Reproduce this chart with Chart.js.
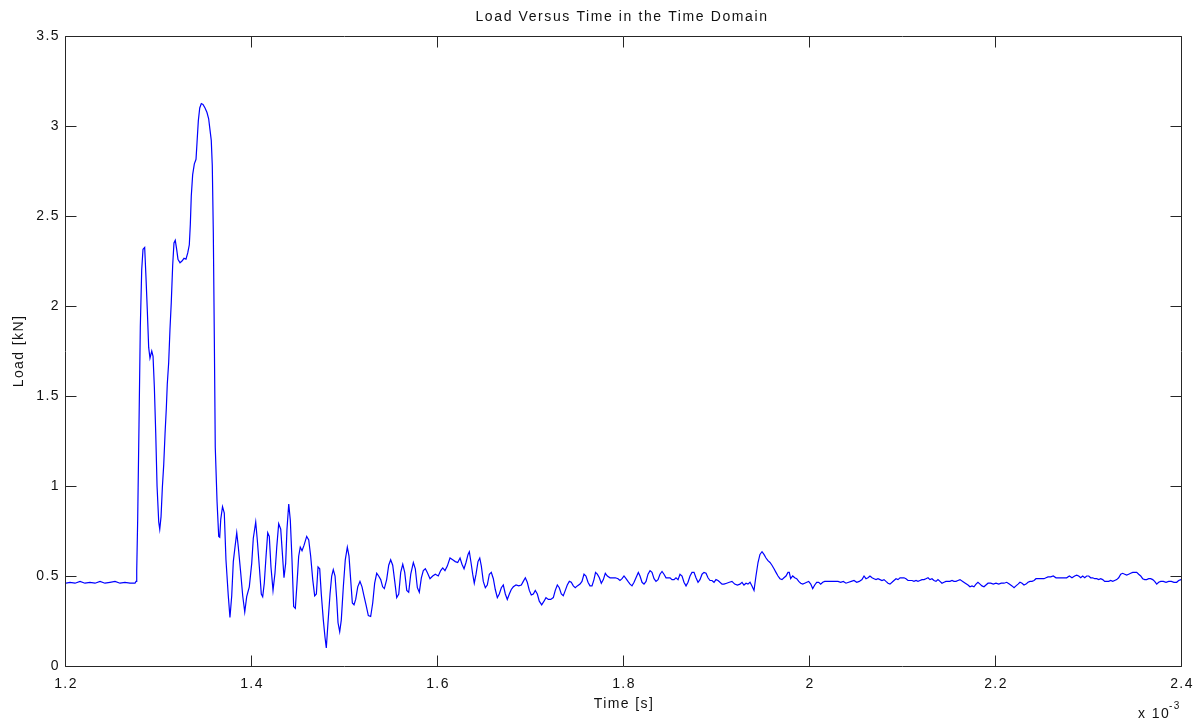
<!DOCTYPE html>
<html>
<head>
<meta charset="utf-8">
<title>Load Versus Time</title>
<script src="https://cdn.jsdelivr.net/npm/chart.js@4/dist/chart.umd.min.js"></script>
<style>
  html, body { margin: 0; padding: 0; background: #fff; }
  #wrap { width: 1204px; height: 728px; }
</style>
</head>
<body>
<div id="wrap"><canvas id="chart" width="1204" height="728"></canvas></div>
<script>
// time in units of 1e-3 s, load in kN
const time = [
  1.2000,1.2043,1.2097,1.2151,1.2204,1.2258,1.2312,1.2366,1.2419,1.2473,
  1.2527,1.2581,1.2634,1.2688,1.2742,1.2753,1.2758,1.2763,1.2771,1.2785,
  1.2799,1.2814,1.2828,1.2846,1.2860,1.2874,1.2889,1.2903,1.2922,1.2936,
  1.2950,1.2965,1.2979,1.2997,1.3008,1.3022,1.3036,1.3051,1.3065,1.3079,
  1.3089,1.3104,1.3118,1.3132,1.3147,1.3161,1.3175,1.3190,1.3204,1.3226,
  1.3247,1.3269,1.3290,1.3309,1.3326,1.3337,1.3347,1.3362,1.3380,1.3398,
  1.3409,1.3423,1.3438,1.3455,1.3473,1.3495,1.3516,1.3534,1.3548,1.3562,
  1.3573,1.3584,1.3595,1.3605,1.3624,1.3642,1.3653,1.3664,1.3683,1.3702,
  1.3720,1.3745,1.3763,1.3782,1.3799,1.3817,1.3836,1.3853,1.3879,1.3900,
  1.3922,1.3943,1.3971,1.3997,1.4014,1.4040,1.4057,1.4079,1.4100,1.4115,
  1.4132,1.4151,1.4169,1.4186,1.4204,1.4226,1.4247,1.4266,1.4287,1.4309,
  1.4326,1.4344,1.4362,1.4376,1.4395,1.4412,1.4430,1.4448,1.4466,1.4484,
  1.4502,1.4519,1.4538,1.4559,1.4588,1.4610,1.4631,1.4653,1.4674,1.4692,
  1.4710,1.4728,1.4745,1.4767,1.4785,1.4799,1.4817,1.4839,1.4857,1.4874,
  1.4893,1.4911,1.4925,1.4943,1.4960,1.4982,1.5003,1.5025,1.5043,1.5061,
  1.5079,1.5097,1.5115,1.5137,1.5161,1.5183,1.5204,1.5226,1.5251,1.5276,
  1.5298,1.5319,1.5341,1.5362,1.5384,1.5405,1.5423,1.5448,1.5470,1.5491,
  1.5513,1.5535,1.5556,1.5578,1.5599,1.5621,1.5642,1.5664,1.5685,1.5707,
  1.5735,1.5756,1.5778,1.5799,1.5821,1.5842,1.5864,1.5885,1.5914,1.5943,
  1.5971,1.6003,1.6029,1.6051,1.6075,1.6100,1.6129,1.6158,1.6186,1.6212,
  1.6237,1.6258,1.6280,1.6301,1.6323,1.6337,1.6355,1.6373,1.6390,1.6409,
  1.6430,1.6449,1.6466,1.6487,1.6509,1.6530,1.6552,1.6573,1.6595,1.6616,
  1.6638,1.6659,1.6681,1.6702,1.6724,1.6745,1.6767,1.6788,1.6810,1.6839,
  1.6868,1.6896,1.6917,1.6939,1.6960,1.6982,1.7003,1.7025,1.7046,1.7068,
  1.7089,1.7115,1.7140,1.7161,1.7186,1.7212,1.7240,1.7261,1.7283,1.7304,
  1.7326,1.7347,1.7369,1.7390,1.7412,1.7433,1.7455,1.7476,1.7498,1.7527,
  1.7548,1.7570,1.7591,1.7613,1.7634,1.7656,1.7677,1.7694,1.7713,1.7735,
  1.7756,1.7778,1.7799,1.7821,1.7850,1.7879,1.7907,1.7936,1.7957,1.7979,
  1.8000,1.8022,1.8043,1.8065,1.8086,1.8108,1.8129,1.8154,1.8172,1.8194,
  1.8215,1.8237,1.8258,1.8280,1.8301,1.8323,1.8344,1.8366,1.8387,1.8409,
  1.8430,1.8452,1.8473,1.8495,1.8516,1.8538,1.8559,1.8581,1.8602,1.8624,
  1.8645,1.8667,1.8688,1.8710,1.8731,1.8753,1.8774,1.8796,1.8817,1.8839,
  1.8860,1.8882,1.8903,1.8925,1.8946,1.8968,1.8989,1.9011,1.9032,1.9054,
  1.9075,1.9104,1.9133,1.9161,1.9190,1.9219,1.9247,1.9269,1.9290,1.9312,
  1.9333,1.9355,1.9376,1.9398,1.9419,1.9441,1.9462,1.9484,1.9505,1.9527,
  1.9548,1.9570,1.9591,1.9613,1.9634,1.9656,1.9677,1.9699,1.9720,1.9742,
  1.9763,1.9777,1.9792,1.9814,1.9836,1.9857,1.9879,1.9900,1.9922,1.9943,
  1.9965,1.9986,2.0008,2.0029,2.0051,2.0072,2.0094,2.0115,2.0137,2.0158,
  2.0186,2.0215,2.0244,2.0272,2.0301,2.0330,2.0358,2.0387,2.0416,2.0444,
  2.0473,2.0502,2.0530,2.0559,2.0581,2.0602,2.0624,2.0645,2.0667,2.0688,
  2.0710,2.0731,2.0753,2.0774,2.0796,2.0817,2.0839,2.0860,2.0882,2.0903,
  2.0925,2.0946,2.0968,2.0989,2.1011,2.1032,2.1054,2.1075,2.1097,2.1118,
  2.1140,2.1161,2.1183,2.1204,2.1226,2.1247,2.1269,2.1290,2.1312,2.1333,
  2.1355,2.1376,2.1398,2.1419,2.1441,2.1462,2.1484,2.1505,2.1527,2.1548,
  2.1570,2.1591,2.1613,2.1642,2.1670,2.1699,2.1720,2.1742,2.1763,2.1785,
  2.1806,2.1828,2.1849,2.1871,2.1892,2.1914,2.1943,2.1971,2.2000,2.2029,
  2.2057,2.2086,2.2115,2.2143,2.2172,2.2194,2.2215,2.2237,2.2258,2.2280,
  2.2301,2.2323,2.2344,2.2366,2.2387,2.2409,2.2430,2.2459,2.2487,2.2516,
  2.2538,2.2559,2.2588,2.2616,2.2645,2.2674,2.2703,2.2731,2.2760,2.2789,
  2.2817,2.2846,2.2868,2.2889,2.2911,2.2932,2.2954,2.2975,2.2997,2.3018,
  2.3040,2.3061,2.3083,2.3104,2.3126,2.3147,2.3169,2.3190,2.3212,2.3233,
  2.3255,2.3276,2.3298,2.3319,2.3341,2.3362,2.3384,2.3405,2.3427,2.3448,
  2.3470,2.3491,2.3513,2.3534,2.3556,2.3577,2.3599,2.3620,2.3642,2.3663,
  2.3685,2.3706,2.3728,2.3749,2.3771,2.3799,2.3828,2.3857,2.3885,2.3914,
  2.3943,2.3964,2.3989,2.4000
]

const load = [
  0.460,0.465,0.460,0.470,0.460,0.465,0.460,0.470,0.460,0.465,
  0.470,0.460,0.465,0.460,0.460,0.470,0.530,0.530,0.820,1.340,
  1.880,2.200,2.315,2.325,2.160,1.980,1.770,1.710,1.750,1.720,
  1.550,1.290,1.000,0.800,0.760,0.830,0.990,1.120,1.290,1.435,
  1.565,1.685,1.870,2.020,2.225,2.350,2.365,2.315,2.260,2.240,
  2.250,2.265,2.260,2.295,2.340,2.455,2.610,2.730,2.790,2.815,
  2.910,3.030,3.100,3.125,3.120,3.100,3.075,3.040,2.980,2.920,
  2.780,2.410,1.815,1.215,0.915,0.720,0.715,0.815,0.885,0.850,
  0.590,0.390,0.270,0.390,0.580,0.660,0.740,0.660,0.515,0.390,
  0.300,0.385,0.440,0.570,0.710,0.800,0.700,0.550,0.400,0.385,
  0.460,0.610,0.740,0.720,0.550,0.420,0.515,0.660,0.790,0.760,
  0.630,0.490,0.570,0.760,0.900,0.810,0.590,0.330,0.320,0.460,
  0.610,0.660,0.640,0.670,0.720,0.700,0.610,0.480,0.390,0.400,
  0.550,0.540,0.400,0.255,0.160,0.100,0.240,0.400,0.500,0.535,
  0.500,0.370,0.240,0.190,0.255,0.440,0.590,0.660,0.610,0.480,
  0.350,0.340,0.370,0.440,0.470,0.440,0.390,0.340,0.280,0.275,
  0.350,0.460,0.515,0.500,0.480,0.440,0.430,0.480,0.560,0.590,
  0.560,0.470,0.380,0.400,0.520,0.565,0.520,0.420,0.410,0.510,
  0.575,0.540,0.435,0.410,0.490,0.530,0.540,0.520,0.485,0.500,
  0.510,0.500,0.530,0.545,0.530,0.555,0.600,0.590,0.580,0.575,
  0.600,0.565,0.540,0.575,0.620,0.635,0.575,0.510,0.460,0.510,
  0.580,0.600,0.555,0.470,0.435,0.450,0.510,0.520,0.485,0.425,
  0.380,0.400,0.435,0.450,0.400,0.370,0.400,0.425,0.440,0.450,
  0.445,0.450,0.470,0.490,0.465,0.420,0.395,0.400,0.420,0.400,
  0.360,0.340,0.360,0.380,0.370,0.370,0.380,0.420,0.450,0.435,
  0.400,0.390,0.420,0.450,0.470,0.465,0.445,0.435,0.445,0.455,
  0.470,0.510,0.500,0.465,0.445,0.445,0.480,0.520,0.510,0.490,
  0.460,0.480,0.515,0.500,0.490,0.490,0.490,0.485,0.475,0.485,
  0.500,0.485,0.470,0.455,0.445,0.465,0.490,0.520,0.500,0.465,
  0.455,0.470,0.510,0.530,0.520,0.485,0.470,0.480,0.510,0.525,
  0.510,0.490,0.490,0.490,0.480,0.480,0.490,0.480,0.510,0.500,
  0.465,0.445,0.465,0.500,0.520,0.520,0.490,0.465,0.480,0.510,
  0.520,0.515,0.490,0.475,0.475,0.465,0.480,0.475,0.465,0.455,
  0.455,0.460,0.465,0.470,0.455,0.450,0.455,0.465,0.450,0.460,
  0.455,0.465,0.445,0.420,0.500,0.575,0.620,0.635,0.620,0.600,
  0.585,0.575,0.560,0.540,0.520,0.500,0.485,0.480,0.490,0.500,
  0.520,0.520,0.485,0.500,0.490,0.485,0.470,0.460,0.455,0.460,
  0.465,0.470,0.455,0.430,0.450,0.465,0.465,0.455,0.465,0.470,
  0.470,0.470,0.470,0.470,0.470,0.465,0.470,0.460,0.465,0.470,
  0.475,0.465,0.470,0.480,0.500,0.485,0.490,0.500,0.490,0.485,
  0.480,0.485,0.480,0.475,0.480,0.470,0.460,0.455,0.465,0.475,
  0.485,0.480,0.490,0.490,0.490,0.485,0.475,0.475,0.475,0.470,
  0.475,0.470,0.475,0.480,0.480,0.485,0.490,0.480,0.485,0.475,
  0.470,0.480,0.470,0.460,0.465,0.470,0.470,0.470,0.475,0.470,
  0.470,0.475,0.480,0.470,0.460,0.450,0.440,0.445,0.440,0.455,
  0.465,0.455,0.445,0.440,0.450,0.460,0.460,0.455,0.460,0.455,
  0.460,0.460,0.465,0.455,0.445,0.435,0.445,0.455,0.465,0.460,
  0.450,0.455,0.465,0.470,0.470,0.475,0.485,0.485,0.485,0.485,
  0.490,0.495,0.495,0.500,0.490,0.490,0.490,0.490,0.490,0.500,
  0.490,0.500,0.505,0.500,0.490,0.500,0.490,0.500,0.500,0.490,
  0.490,0.485,0.485,0.480,0.485,0.480,0.470,0.470,0.470,0.475,
  0.470,0.475,0.480,0.490,0.510,0.515,0.510,0.505,0.510,0.515,
  0.520,0.520,0.520,0.510,0.500,0.485,0.480,0.480,0.485,0.485,
  0.480,0.470,0.455,0.465,0.470,0.470,0.465,0.470,0.470,0.465,
  0.465,0.475,0.480,0.480
]

const timeTicks = [1.2, 1.4, 1.6, 1.8, 2.0, 2.2, 2.4]
const loadTicks = [0, 0.5, 1, 1.5, 2, 2.5, 3, 3.5]
const chartTitle = 'Load Versus Time in the Time Domain'

const FONT = 'Liberation Sans, Arial, sans-serif'
const TEXT = '#111'
const AXIS = '#262626'
const TICK_LEN = 11

const fmt = (v) => String(+Number(v).toFixed(2))

// matlab-ish box: frame on all four sides with inward ticks,
// title centred over the axes, and the x10^-3 exponent note
const axesBox = {
  id: 'axesBox',
  beforeUpdate(chart) {
    chart.ctx.letterSpacing = '1.4px'
  },
  beforeDraw(chart) {
    chart.ctx.letterSpacing = '1.4px'
  },
  afterDatasetsDraw(chart) {
    const { ctx, chartArea: a, scales } = chart
    const L = a.left - 0.5
    const R = a.right - 0.5
    const T = a.top + 0.5
    const B = a.bottom + 0.5
    ctx.save()
    ctx.strokeStyle = AXIS
    ctx.lineWidth = 1
    ctx.beginPath()
    ctx.rect(L, T, R - L, B - T)
    for (const v of timeTicks) {
      const px = Math.round(scales.x.getPixelForValue(v)) - 0.5
      ctx.moveTo(px, B)
      ctx.lineTo(px, B - TICK_LEN)
      ctx.moveTo(px, T)
      ctx.lineTo(px, T + TICK_LEN)
    }
    for (const v of loadTicks) {
      const py = Math.round(scales.y.getPixelForValue(v)) + 0.5
      ctx.moveTo(L, py)
      ctx.lineTo(L + TICK_LEN, py)
      ctx.moveTo(R, py)
      ctx.lineTo(R - TICK_LEN, py)
    }
    ctx.stroke()
    ctx.restore()
  },
  afterDraw(chart) {
    const { ctx, chartArea: a } = chart
    ctx.save()
    ctx.fillStyle = TEXT
    ctx.textBaseline = 'middle'

    ctx.letterSpacing = '1.6px'
    ctx.textAlign = 'center'
    ctx.font = `14px ${FONT}`
    ctx.fillText(chartTitle, (a.left + a.right) / 2 - 2, a.top - 18.6)

    ctx.letterSpacing = '1.4px'
    ctx.textAlign = 'left'
    const base = 'x 10'
    const x0 = a.right - 44
    ctx.fillText(base, x0, a.bottom + 48)
    const w = ctx.measureText(base).width
    ctx.font = `10px ${FONT}`
    ctx.fillText('-3', x0 + w - 1, a.bottom + 40)
    ctx.restore()
  },
}

const ctx = document.getElementById('chart')

new Chart(ctx, {
  type: 'line',
  data: {
    datasets: [
      {
        label: 'Load',
        data: time.map((t, i) => ({ x: t, y: load[i] })),
        borderColor: '#0000ff',
        borderWidth: 1.2,
        pointRadius: 0,
        tension: 0,
        fill: false,
      },
    ],
  },
  options: {
    responsive: false,
    animation: false,
    devicePixelRatio: 1,
    layout: { padding: { left: 0, right: 22, top: 36, bottom: 0 } },
    plugins: {
      legend: { display: false },
      tooltip: { enabled: false },
      title: { display: false },
    },
    scales: {
      x: {
        type: 'linear',
        min: 1.2,
        max: 2.4,
        afterFit: (scale) => { scale.height = 62 },
        afterBuildTicks: (scale) => {
          scale.ticks = timeTicks.map((v) => ({ value: v }))
        },
        grid: { display: false, drawTicks: false },
        border: { display: false },
        ticks: {
          color: TEXT,
          padding: 9.3,
          maxRotation: 0,
          font: { family: FONT, size: 14, lineHeight: 1.2 },
          callback: fmt,
        },
        title: {
          display: true,
          text: 'Time [s]',
          color: TEXT,
          font: { family: FONT, size: 14, lineHeight: 1.2 },
          padding: { top: 0, bottom: 15.6 },
        },
      },
      y: {
        min: 0,
        max: 3.5,
        afterFit: (scale) => { scale.width = 66 },
        afterBuildTicks: (scale) => {
          scale.ticks = loadTicks.map((v) => ({ value: v }))
        },
        grid: { display: false, drawTicks: false },
        border: { display: false },
        ticks: {
          color: TEXT,
          padding: 6,
          font: { family: FONT, size: 14, lineHeight: 1.2 },
          callback: fmt,
        },
        title: {
          display: true,
          text: 'Load [kN]',
          color: TEXT,
          font: { family: FONT, size: 14, lineHeight: 1.2 },
          padding: { top: 10.6, bottom: 0 },
        },
      },
    },
  },
  plugins: [axesBox],
})
</script>
</body>
</html>
